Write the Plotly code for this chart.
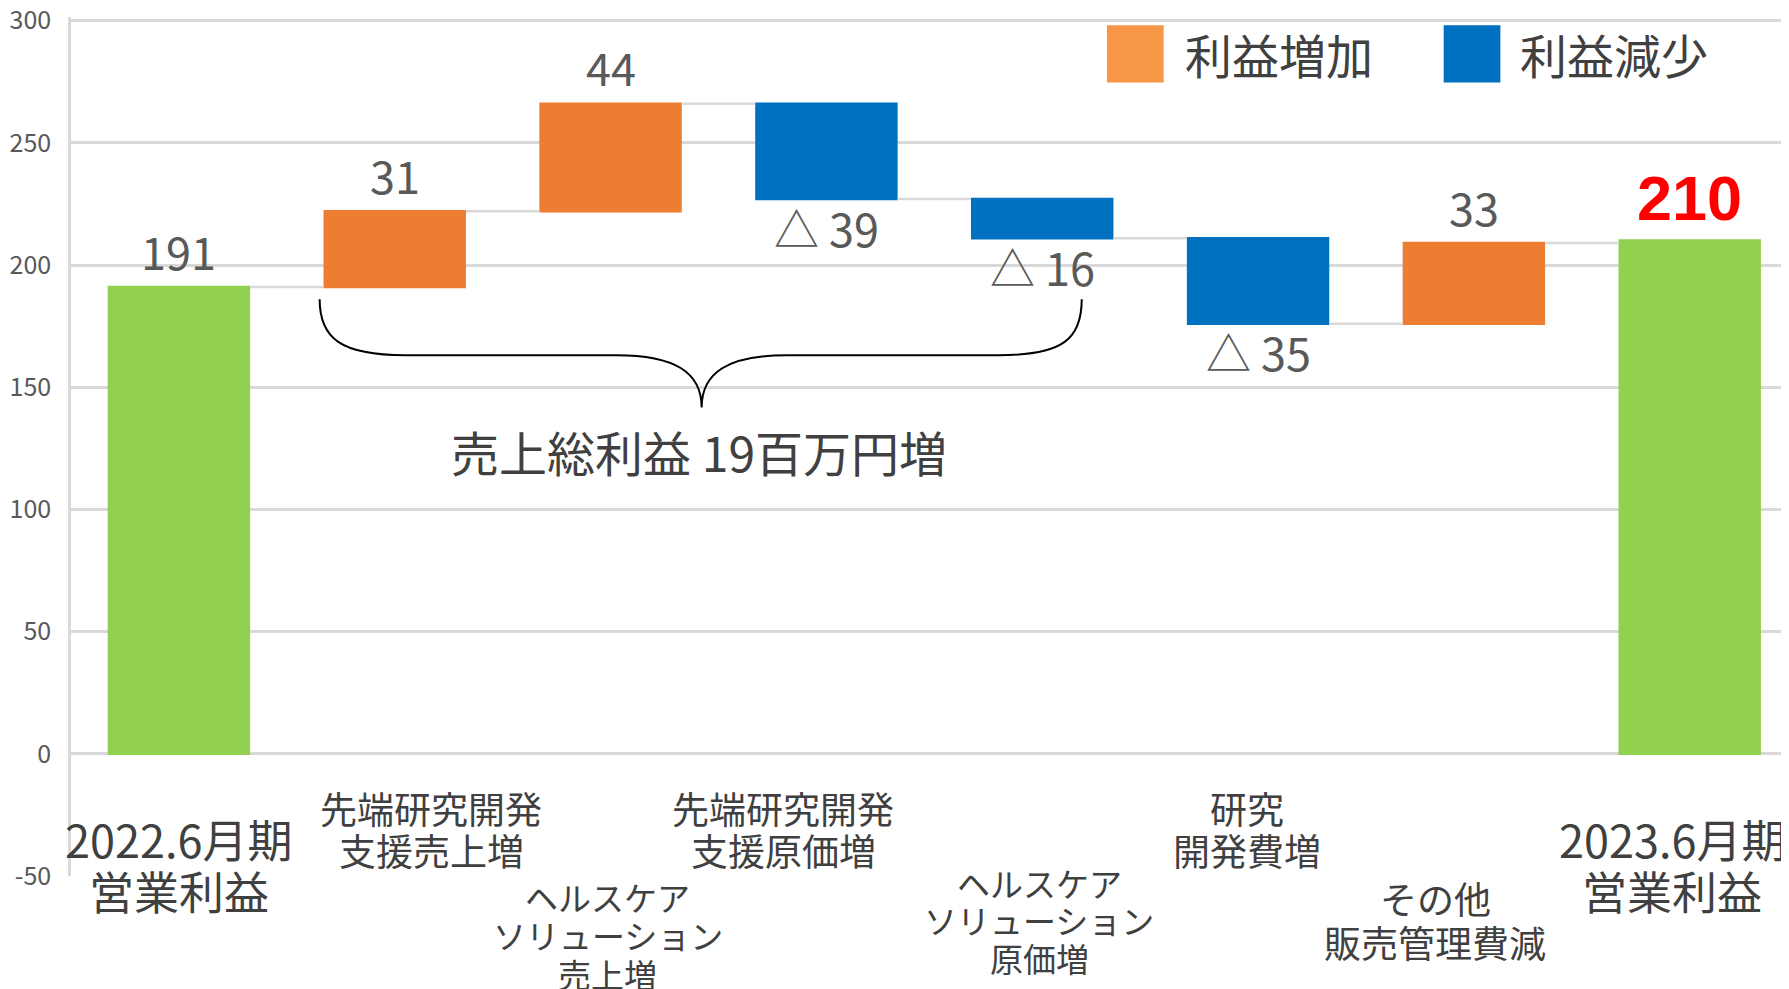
import plotly.graph_objects as go

# ---------------- data ----------------
categories = [
    "2022.6月期<br>営業利益",
    "先端研究開発<br>支援売上増",
    "ヘルスケア<br>ソリューション<br>売上増",
    "先端研究開発<br>支援原価増",
    "ヘルスケア<br>ソリューション<br>原価増",
    "研究<br>開発費増",
    "その他<br>販売管理費減",
    "2023.6月期<br>営業利益",
]
values = [191, 31, 44, -39, -16, -35, 33, 210]
measures = ["absolute", "relative", "relative", "relative",
            "relative", "relative", "relative", "absolute"]
legend_labels = ["利益増加", "利益減少"]
brace_label = "売上総利益 19百万円増"
y_ticks = [-50, 0, 50, 100, 150, 200, 250, 300]

# ---------------- styles ----------------
JP = "Noto Sans CJK JP, Noto Sans, sans-serif"
C_UP = "#ED7D31"
C_DOWN = "#0070C0"
C_TOTAL = "#92D050"
C_LEG_UP = "#F79646"
GRID = "#D9D9D9"
TXT = "#595959"
TXT2 = "#404040"

# plot area (page pixels): top 17, bottom 876
PLOT_BOTTOM = 876.0
PLOT_H = 859.0

def py2paper(py):
    return (PLOT_BOTTOM - py) / PLOT_H

x = list(range(len(categories)))

fig = go.Figure(go.Waterfall(
    x=x, y=values, measure=measures,
    increasing=dict(marker=dict(color=C_UP, line=dict(width=0))),
    decreasing=dict(marker=dict(color=C_DOWN, line=dict(width=0))),
    totals=dict(marker=dict(color=C_TOTAL, line=dict(width=0))),
    connector=dict(line=dict(color=GRID, width=2.5), mode="between"),
    textinfo="none", showlegend=False, hoverinfo="skip",
))

# value labels (computed from running totals)
running = 0
for i, (v, m) in enumerate(zip(values, measures)):
    if m == "absolute":
        running = v
    else:
        running += v
    end = running
    if i == len(values) - 1:
        fig.add_annotation(x=i, y=end, text="<b>%d</b>" % v, showarrow=False,
                           yshift=43, font=dict(family="Liberation Sans, Arial", size=63, color="#FF0000"))
    elif v >= 0:
        fig.add_annotation(x=i, y=end, text=str(v), showarrow=False,
                           yshift=37, font=dict(family=JP, size=45, color=TXT))
    else:
        fig.add_annotation(x=i, y=end, text="△ " + str(abs(v)), showarrow=False,
                           yshift=-28, font=dict(family=JP, size=45, color=TXT))

# category labels: one annotation per line (x in data units, y in page pixels)
label_pos = [
    (0.00, [838, 890], 45),
    (1.168, [808, 850], 37),
    (1.988, [897, 935, 974], 33),
    (2.80, [808, 850], 37),
    (3.986, [883, 920, 958], 33),
    (4.95, [808, 850], 37),
    (5.82, [898, 942], 37),
    (6.92, [838, 890], 45),
]
for cat, (lx, ys, fs) in zip(categories, label_pos):
    for line, py in zip(cat.split("<br>"), ys):
        fig.add_annotation(x=lx, xref="x", y=py2paper(py), yref="paper",
                           text=line, showarrow=False, xanchor="center", yanchor="middle",
                           font=dict(family=JP, size=fs, color=TXT2))

# brace
brace = ("M 0.652,186 C 0.652,170 0.75,163.1 1.048,163.1 L 2.026,163.1 "
         "C 2.30,163.1 2.422,156 2.422,141.7 C 2.422,156 2.544,163.1 2.818,163.1 "
         "L 3.80,163.1 C 4.10,163.1 4.183,170 4.183,186")
fig.add_shape(type="path", path=brace, xref="x", yref="y", line=dict(color="black", width=2))
fig.add_annotation(x=2.41, y=124.0, text=brace_label, showarrow=False,
                   font=dict(family=JP, size=48, color=TXT2))

# legend (drawn manually, big squares)
for (x0, x1, tx), col, lab in zip([(0.603, 0.636, 0.647), (0.799, 0.832, 0.842)],
                                  [C_LEG_UP, C_DOWN], legend_labels):
    fig.add_shape(type="rect", xref="paper", yref="paper", x0=x0, x1=x1,
                  y0=py2paper(82.6), y1=py2paper(25.3),
                  fillcolor=col, line=dict(width=0))
    fig.add_annotation(xref="paper", yref="paper", x=tx, y=py2paper(53.5), text=lab, showarrow=False,
                       xanchor="left", yanchor="middle", font=dict(family=JP, size=47, color=TXT2))

fig.update_layout(
    width=1781, height=981,
    margin=dict(l=63, r=0, t=9, b=113, pad=0, autoexpand=False),
    paper_bgcolor="white", plot_bgcolor="white",
    waterfallgap=0.34,
    xaxis=dict(range=[-0.5, 7.46], showticklabels=False, showgrid=False, zeroline=False,
               showline=False, fixedrange=True, automargin=False),
    yaxis=dict(range=[-50, 301.5], tickvals=y_ticks, ticktext=[str(t) for t in y_ticks],
               showgrid=True, gridcolor=GRID, gridwidth=2.5, automargin=False,
               zeroline=False, showline=True, linecolor=GRID, linewidth=2.5,
               ticks="", ticklabelstandoff=12, ticklabeloverflow="allow",
               tickfont=dict(family=JP, size=25, color=TXT)),
    showlegend=False,
)

fig.write_html("out.html")
